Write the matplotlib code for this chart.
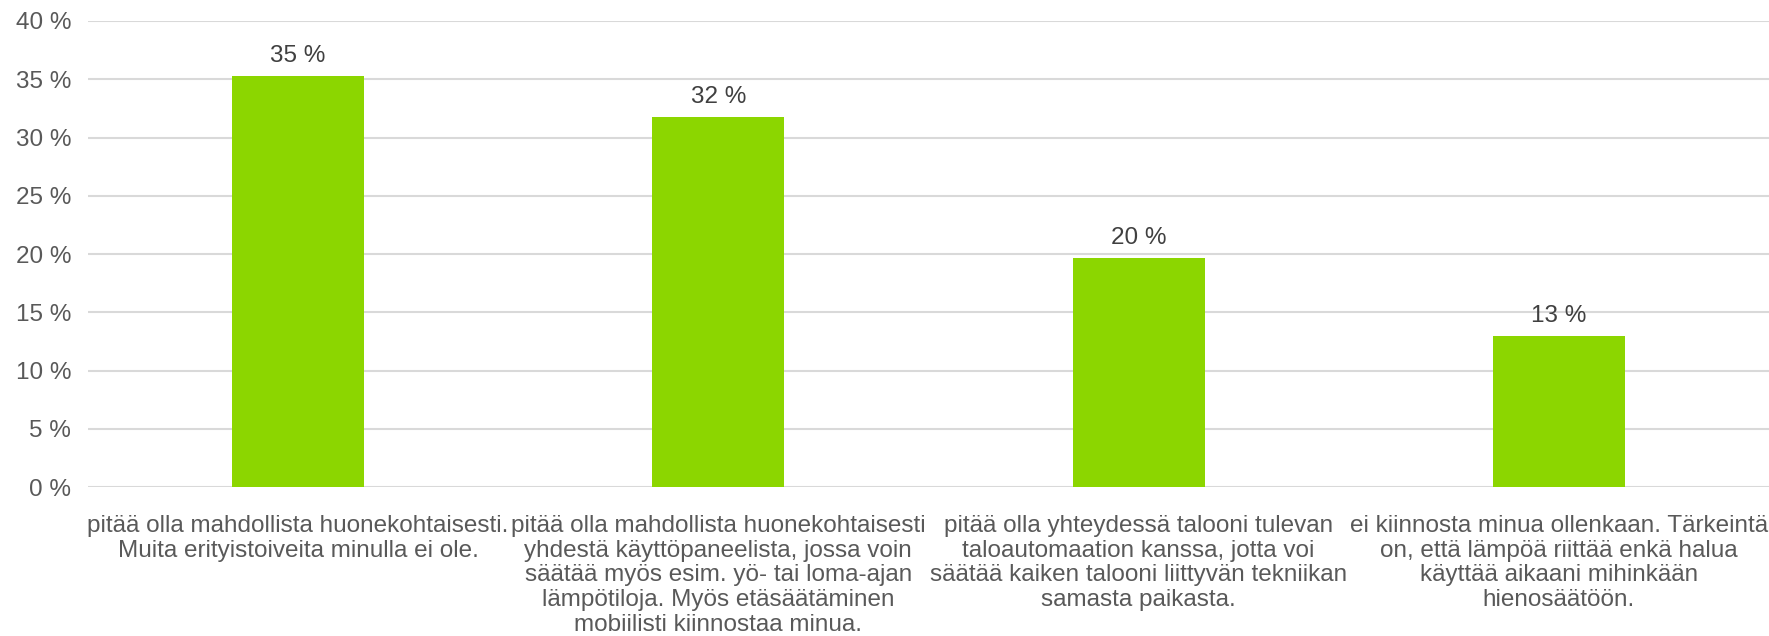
import matplotlib
matplotlib.use('Agg')
from matplotlib import pyplot as plt

categories = [
    'pitää olla mahdollista huonekohtaisesti.\nMuita erityistoiveita minulla ei ole.',
    'pitää olla mahdollista huonekohtaisesti\nyhdestä käyttöpaneelista, jossa voin\nsäätää myös esim. yö- tai loma-ajan\nlämpötiloja. Myös etäsäätäminen\nmobiilisti kiinnostaa minua.',
    'pitää olla yhteydessä talooni tulevan\ntaloautomaation kanssa, jotta voi\nsäätää kaiken talooni liittyvän tekniikan\nsamasta paikasta.',
    'ei kiinnosta minua ollenkaan. Tärkeintä\non, että lämpöä riittää enkä halua\nkäyttää aikaani mihinkään\nhienosäätöön.',
]
values = [35.3, 31.8, 19.7, 13.0]
value_labels = ['35 %', '32 %', '20 %', '13 %']
yticks = [0, 5, 10, 15, 20, 25, 30, 35, 40]

plt.rcParams['font.family'] = ['Liberation Sans', 'DejaVu Sans']
grey = '#595959'
fs = 17.5

fig = plt.figure(figsize=(17.69, 6.36), dpi=100)
ax = fig.add_axes([0.0497, 0.234, 0.9503, 0.733])

x = range(len(categories))
bars = ax.bar(x, values, width=0.314, color='#8CD600', zorder=3)
for b, lab in zip(bars, value_labels):
    ax.annotate(lab, (b.get_x() + b.get_width() / 2, b.get_height()),
                xytext=(0, 6.5), textcoords='offset points',
                ha='center', va='bottom', fontsize=fs, color='#404040')

ax.set_xlim(-0.5, len(categories) - 0.5)
ax.set_ylim(0, 40)
ax.set_yticks(yticks)
ax.set_yticklabels(['%d %%' % t for t in yticks])
ax.set_xticks(list(x))
ax.set_xticklabels(categories, linespacing=1.16)
ax.tick_params(axis='y', length=0, pad=12, labelsize=fs, labelcolor=grey)
ax.tick_params(axis='x', length=0, pad=20, labelsize=fs, labelcolor=grey)
ax.grid(axis='y', color='#D9D9D9', linewidth=1.5, zorder=0)
for s in ax.spines.values():
    s.set_visible(False)

plt.savefig('out.png')
